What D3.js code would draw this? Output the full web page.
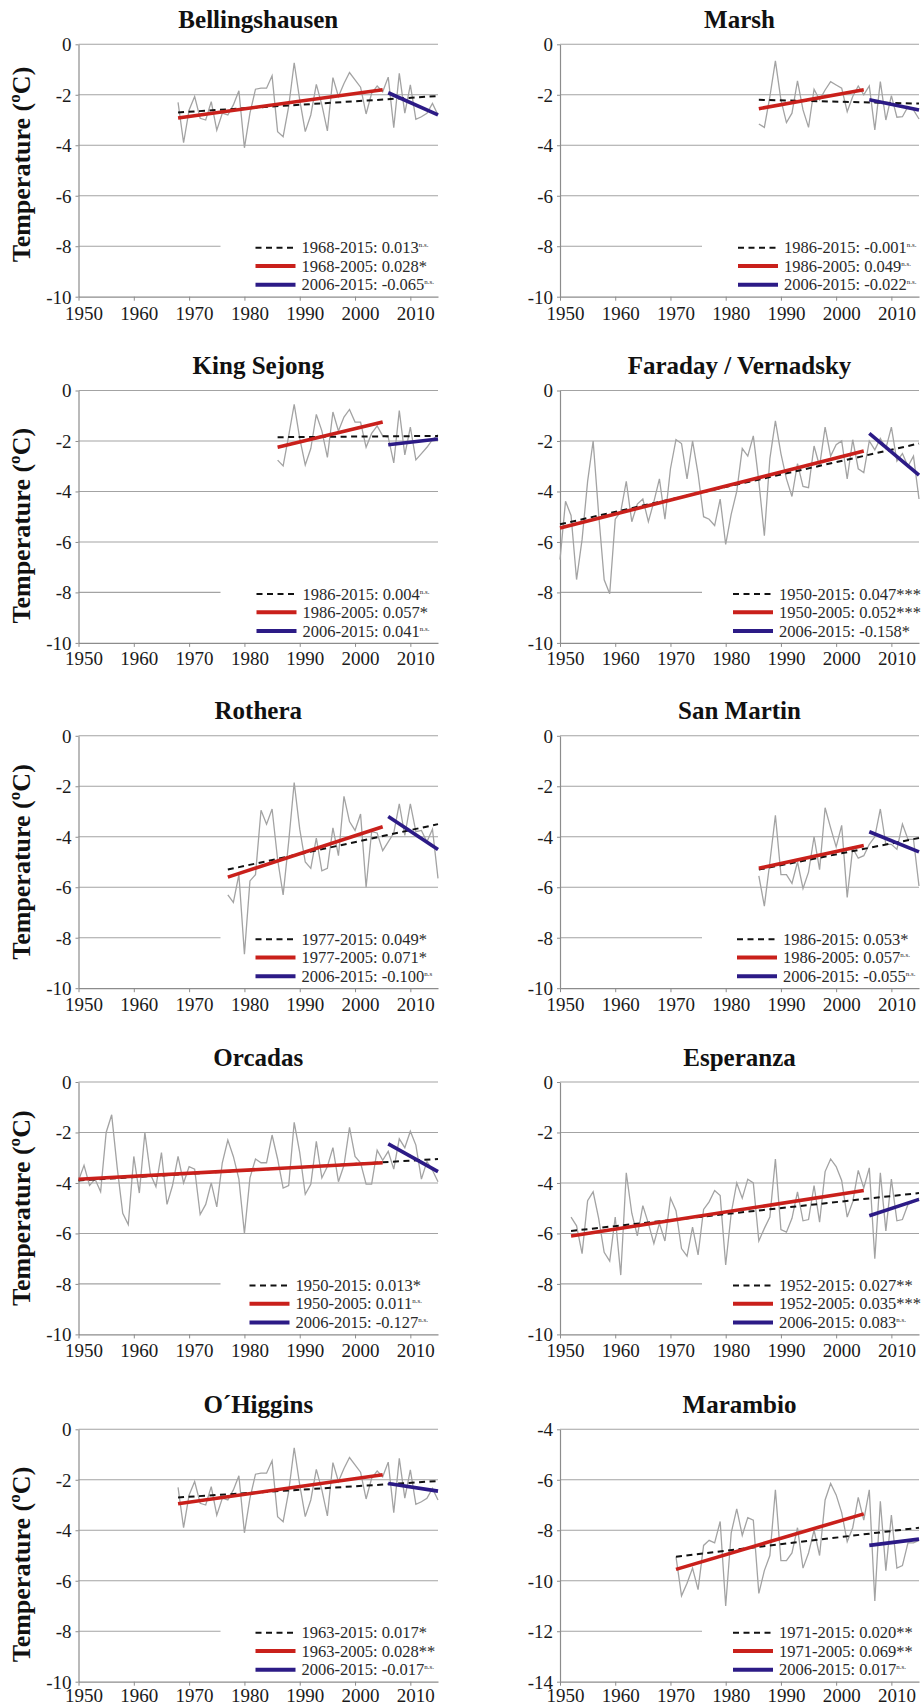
<!DOCTYPE html>
<html>
<head>
<meta charset="utf-8">
<script src="https://cdn.jsdelivr.net/npm/d3@7"></script>
<style>
  html, body { margin: 0; padding: 0; background: #fff; }
  svg { display: block; }
</style>
</head>
<body>
<svg id="chart" width="922" height="1707"></svg>
<script>
// ---------------- DATA ----------------
const stationNames = ["Bellingshausen", "Marsh", "King Sejong", "Faraday / Vernadsky", "Rothera",
                      "San Martin", "Orcadas", "Esperanza", "O\u00B4Higgins", "Marambio"];
const startYears = [1968, 1986, 1986, 1950, 1977, 1986, 1950, 1952, 1968, 1971];
const xTickYears = [1950, 1960, 1970, 1980, 1990, 2000, 2010];
const yDomainMin = [-10, -10, -10, -10, -10, -10, -10, -10, -10, -14];
const yDomainMax = [0, 0, 0, 0, 0, 0, 0, 0, 0, -4];

const bellingshausenTemp = [-2.30,-3.90,-2.60,-2.07,-2.93,-3.00,-2.27,-3.40,-2.73,-2.80,
  -2.40,-1.84,-4.10,-2.73,-1.78,-1.74,-1.74,-1.25,-3.46,-3.66,
  -2.47,-0.73,-2.20,-3.46,-2.80,-1.59,-2.40,-3.43,-1.32,-2.07,
  -1.55,-1.12,-1.41,-1.70,-2.76,-1.94,-1.65,-1.88,-1.30,-3.30,
  -1.15,-2.73,-1.61,-2.97,-2.87,-2.73,-2.34,-2.80];
const marshTemp = [-3.16,-3.29,-2.07,-0.66,-2.20,-3.10,-2.73,-1.45,-2.60,-3.29,
  -1.78,-2.20,-1.81,-1.48,-1.61,-1.74,-2.67,-2.07,-1.65,-2.00,
  -1.65,-3.39,-1.48,-3.00,-2.03,-2.89,-2.87,-2.47,-2.60,-2.96];
const kingSejongTemp = [-2.76,-2.99,-1.80,-0.55,-1.90,-2.95,-2.30,-0.95,-1.60,-2.65,
  -0.85,-1.60,-1.05,-0.75,-1.25,-1.25,-2.25,-1.70,-1.40,-1.80,
  -1.85,-2.87,-0.80,-2.55,-1.45,-2.75,-2.50,-2.25,-1.95,-1.75];
const faradayTemp = [-6.70,-4.39,-4.95,-7.49,-5.90,-3.60,-2.00,-4.90,-7.50,-8.05,
  -5.10,-4.80,-3.60,-5.20,-4.50,-4.30,-5.20,-4.40,-3.50,-5.10,
  -3.10,-1.95,-2.10,-3.50,-2.00,-3.30,-5.00,-5.10,-5.35,-4.30,
  -6.10,-4.90,-4.00,-2.30,-2.60,-1.80,-3.60,-5.75,-2.70,-1.20,
  -2.50,-3.50,-4.20,-2.90,-3.80,-3.85,-2.20,-3.00,-1.45,-2.60,
  -2.15,-2.00,-3.50,-1.95,-3.10,-3.25,-2.00,-2.35,-1.90,-2.30,
  -1.45,-2.80,-2.50,-3.00,-2.60,-4.30];
const rotheraTemp = [-6.30,-6.60,-5.50,-8.65,-5.75,-5.50,-2.95,-3.50,-2.90,-4.90,
  -6.30,-4.20,-1.85,-3.70,-5.00,-5.25,-4.05,-5.35,-5.25,-3.65,
  -4.75,-2.40,-3.40,-3.75,-3.10,-6.00,-3.80,-3.85,-4.55,-4.20,
  -3.85,-2.70,-3.95,-2.70,-3.80,-3.75,-4.20,-3.70,-5.65];
const sanMartinTemp = [-5.55,-6.75,-5.00,-3.15,-5.50,-5.50,-5.85,-5.00,-6.05,-5.40,
  -4.00,-5.30,-2.85,-3.65,-4.40,-3.55,-6.40,-4.45,-4.85,-4.75,
  -4.30,-4.00,-2.90,-4.30,-4.30,-4.50,-3.50,-4.10,-4.10,-5.95];
const orcadasTemp = [-3.90,-3.30,-4.10,-3.85,-4.35,-2.00,-1.30,-3.40,-5.20,-5.65,
  -2.95,-4.40,-2.00,-3.65,-4.15,-2.80,-4.85,-4.10,-2.95,-4.00,
  -3.35,-3.45,-5.25,-4.85,-4.00,-4.95,-3.20,-2.30,-2.95,-3.85,
  -6.00,-3.80,-3.05,-3.20,-3.20,-2.10,-3.05,-4.20,-4.10,-1.60,
  -2.80,-4.45,-4.05,-2.35,-3.80,-3.35,-2.60,-3.95,-3.30,-1.80,
  -2.95,-3.20,-4.05,-4.05,-2.70,-3.10,-2.75,-3.45,-2.25,-2.60,
  -1.95,-2.50,-3.85,-3.15,-3.50,-3.95];
const esperanzaTemp = [-5.35,-5.70,-6.80,-4.70,-4.35,-5.40,-6.75,-7.10,-5.35,-7.65,
  -3.60,-5.20,-6.10,-4.90,-5.60,-6.40,-5.60,-6.30,-4.60,-5.10,
  -6.60,-6.90,-5.75,-6.85,-5.05,-4.75,-4.30,-4.50,-7.25,-5.20,
  -4.00,-4.60,-3.85,-4.00,-6.30,-5.80,-5.35,-3.05,-5.85,-5.95,
  -5.40,-4.35,-5.50,-5.45,-4.10,-5.55,-3.55,-3.05,-3.35,-3.90,
  -5.35,-4.75,-3.50,-4.20,-3.40,-7.00,-3.60,-5.90,-3.85,-5.50,
  -5.45,-4.85,-4.75,-4.60];
const ohigginsTemp = [-2.30,-3.90,-2.60,-2.07,-2.93,-3.00,-2.27,-3.40,-2.73,-2.80,
  -2.40,-1.84,-4.10,-2.73,-1.78,-1.74,-1.74,-1.25,-3.46,-3.66,
  -2.47,-0.73,-2.20,-3.46,-2.80,-1.59,-2.40,-3.43,-1.32,-2.07,
  -1.55,-1.12,-1.41,-1.70,-2.76,-1.94,-1.65,-1.88,-1.30,-3.30,
  -1.15,-2.73,-1.61,-2.97,-2.87,-2.73,-2.34,-2.80];
const marambioTemp = [-9.05,-10.60,-10.10,-9.50,-10.35,-8.60,-8.40,-8.50,-7.65,-11.00,
  -8.10,-7.15,-8.20,-7.50,-7.60,-10.50,-9.60,-9.00,-6.40,-9.20,
  -9.20,-8.90,-7.90,-9.50,-8.90,-8.00,-9.00,-6.80,-6.15,-6.60,
  -7.30,-8.45,-7.90,-6.70,-7.60,-6.40,-10.80,-6.85,-9.60,-7.40,
  -9.50,-9.40,-8.50,-8.50,-8.40];
const stationTemps = [bellingshausenTemp, marshTemp, kingSejongTemp, faradayTemp, rotheraTemp,
                      sanMartinTemp, orcadasTemp, esperanzaTemp, ohigginsTemp, marambioTemp];

// trend lines: [startYear, endYear, startValue, endValue]
const fullTrend = [[1968,2015,-2.70,-2.05],[1986,2015,-2.20,-2.35],[1986,2015,-1.85,-1.80],
  [1950,2015,-5.30,-2.10],[1977,2015,-5.30,-3.50],[1986,2015,-5.30,-4.05],[1950,2015,-3.90,-3.05],
  [1952,2015,-5.90,-4.40],[1968,2015,-2.70,-2.05],[1971,2015,-9.05,-7.90]];
const earlyTrend = [[1968,2005,-2.92,-1.80],[1986,2005,-2.55,-1.80],[1986,2005,-2.25,-1.25],
  [1950,2005,-5.45,-2.40],[1977,2005,-5.60,-3.60],[1986,2005,-5.25,-4.35],[1950,2005,-3.85,-3.20],
  [1952,2005,-6.10,-4.30],[1968,2005,-2.95,-1.80],[1971,2005,-9.55,-7.35]];
const lateTrend = [[2006,2015,-1.92,-2.80],[2006,2015,-2.20,-2.60],[2006,2015,-2.15,-1.92],
  [2006,2015,-1.70,-3.35],[2006,2015,-3.20,-4.50],[2006,2015,-3.80,-4.60],[2006,2015,-2.45,-3.55],
  [2006,2015,-5.30,-4.65],[2006,2015,-2.15,-2.45],[2006,2015,-8.60,-8.35]];

// legend texts
const fullPeriod = ["1968-2015","1986-2015","1986-2015","1950-2015","1977-2015","1986-2015","1950-2015","1952-2015","1963-2015","1971-2015"];
const earlyPeriod = ["1968-2005","1986-2005","1986-2005","1950-2005","1977-2005","1986-2005","1950-2005","1952-2005","1963-2005","1971-2005"];
const latePeriod = ["2006-2015","2006-2015","2006-2015","2006-2015","2006-2015","2006-2015","2006-2015","2006-2015","2006-2015","2006-2015"];
const fullSlope = ["0.013","-0.001","0.004","0.047","0.049","0.053","0.013","0.027","0.017","0.020"];
const earlySlope = ["0.028","0.049","0.057","0.052","0.071","0.057","0.011","0.035","0.028","0.069"];
const lateSlope = ["-0.065","-0.022","0.041","-0.158","-0.100","-0.055","-0.127","0.083","-0.017","0.017"];
const fullSig = ["n.s.","n.s.","n.s.","***","*","*","*","**","*","**"];
const earlySig = ["*","n.s.","*","***","*","n.s.","n.s.","***","**","**"];
const lateSig = ["n.s.","n.s.","n.s.","*","n.s","n.s.","n.s.","n.s.","n.s.","n.s."];

// ---------------- LAYOUT ----------------
const colX = [[78.5, 438], [560, 919]];
const rowTop = [44.3, 390.5, 735.8, 1082, 1429.3];
const plotH = 252.4;
const tickLabelY = [23, 22.5, 22.5, 22.5, 20];
const legendOffset = [177, 178, 178, 173, 177, 177, 171, 173, 177, 173];
const yLabelShift = [-6, 9, 0, 0, 9];

const serif = "'Liberation Serif', 'Times New Roman', Times, serif";
const gridColor = "#a3a3a3";
const axisColor = "#8c8c8c";
const greyLine = "#a3a3a3";
const redColor = "#c9201b";
const blueColor = "#2c1b86";
const textColor = "#1a1a1a";

const svg = d3.select("#chart");
svg.append("rect").attr("width", 922).attr("height", 1707).attr("fill", "#fff");

stationNames.forEach((name, i) => {
  const col = i % 2, row = Math.floor(i / 2);
  const [x0, x1] = colX[col];
  const top = rowTop[row], bottom = top + plotH;
  const x = d3.scaleLinear().domain([1950, 2015]).range([x0, x1]);
  const y = d3.scaleLinear().domain([yDomainMin[i], yDomainMax[i]]).range([bottom, top]);
  const yTicks = d3.range(yDomainMin[i], yDomainMax[i] + 0.001, 2);
  const g = svg.append("g");

  // gridlines
  g.selectAll(".grid").data(yTicks.filter(t => t > yDomainMin[i])).enter().append("line")
    .attr("x1", x0)
    .attr("x2", t => (t === yDomainMin[i] + 2) ? x0 + 142 : x1)
    .attr("y1", t => y(t)).attr("y2", t => y(t))
    .attr("stroke", gridColor).attr("stroke-width", 1.1);

  // x axis
  const gx = g.append("g").attr("transform", `translate(0,${bottom})`)
    .call(d3.axisBottom(x).tickValues(xTickYears).tickSize(4).tickSizeOuter(0).tickFormat(d => String(d)))
    .attr("font-family", serif).attr("font-size", 19);
  gx.select(".domain").attr("stroke", axisColor).attr("stroke-width", 1.2);
  gx.selectAll(".tick line").attr("stroke", axisColor);
  gx.selectAll(".tick text").attr("y", tickLabelY[row]).attr("dy", 0).attr("dx", 5)
    .attr("fill", textColor).style("font-family", serif).style("font-size", "19px");

  // y axis
  const gy = g.append("g").attr("transform", `translate(${x0},0)`)
    .call(d3.axisLeft(y).tickValues(yTicks).tickSize(3).tickSizeOuter(0).tickFormat(d => String(d)).tickPadding(4))
    .attr("font-family", serif).attr("font-size", 19);
  gy.select(".domain").attr("stroke", axisColor).attr("stroke-width", 1.2);
  gy.selectAll(".tick line").attr("stroke", axisColor);
  gy.selectAll(".tick text").attr("dy", "0.34em")
    .attr("fill", textColor).style("font-family", serif).style("font-size", "19px");

  // observed series
  const temps = stationTemps[i];
  const series = temps.map((v, k) => ({ year: startYears[i] + k, v }));
  g.append("path").datum(series)
    .attr("fill", "none").attr("stroke", greyLine).attr("stroke-width", 1.3).attr("stroke-linejoin", "miter")
    .attr("d", d3.line().x(d => x(d.year)).y(d => y(d.v)));

  // trend lines
  const trendLine = d3.line().x(d => x(d[0])).y(d => y(d[1]));
  const seg = t => [[t[0], t[2]], [t[1], t[3]]];
  g.append("path").datum(seg(fullTrend[i]))
    .attr("d", trendLine).attr("fill", "none").attr("stroke", "#111").attr("stroke-width", 2)
    .attr("stroke-dasharray", "6,4.5");
  g.append("path").datum(seg(earlyTrend[i]))
    .attr("d", trendLine).attr("fill", "none").attr("stroke", redColor).attr("stroke-width", 3.6);
  g.append("path").datum(seg(lateTrend[i]))
    .attr("d", trendLine).attr("fill", "none").attr("stroke", blueColor).attr("stroke-width", 3.6);

  // legend
  const lx = x0 + legendOffset[i];
  const entries = [
    { per: fullPeriod[i], slope: fullSlope[i], sig: fullSig[i], color: "#111", w: 2, dash: "6,4.5" },
    { per: earlyPeriod[i], slope: earlySlope[i], sig: earlySig[i], color: redColor, w: 4, dash: null },
    { per: latePeriod[i], slope: lateSlope[i], sig: lateSig[i], color: blueColor, w: 4, dash: null }
  ];
  const rowOffsets = [203.5, 221.8, 240.5];
  entries.forEach((e, k) => {
    const ly = top + rowOffsets[k];
    g.append("line").attr("x1", lx).attr("x2", lx + 40).attr("y1", ly).attr("y2", ly)
      .attr("stroke", e.color).attr("stroke-width", e.w).attr("stroke-dasharray", e.dash);
    const t = g.append("text").attr("x", lx + 46).attr("y", ly + 5.5)
      .attr("fill", "#2a2a2a").style("font-family", serif).style("font-size", "16.5px")
      .text(`${e.per}: ${e.slope}`);
    if (e.sig.startsWith("n")) {
      t.append("tspan").attr("dy", -6).style("font-size", "7px").text(e.sig);
    } else {
      t.append("tspan").text(e.sig);
    }
  });

  // title
  g.append("text").attr("x", (x0 + x1) / 2).attr("y", top - 16.5)
    .attr("text-anchor", "middle").attr("fill", "#111")
    .style("font-family", serif).style("font-weight", "bold").style("font-size", "25px")
    .text(name);

  // y label (left column)
  if (col === 0) {
    const cy = (top + bottom) / 2 + yLabelShift[row];
    g.append("text").attr("transform", `translate(30,${cy}) rotate(-90)`)
      .attr("text-anchor", "middle").attr("fill", "#111")
      .style("font-family", serif).style("font-weight", "bold").style("font-size", "26px")
      .text("Temperature (\u00BAC)");
  }
});
</script>
</body>
</html>
